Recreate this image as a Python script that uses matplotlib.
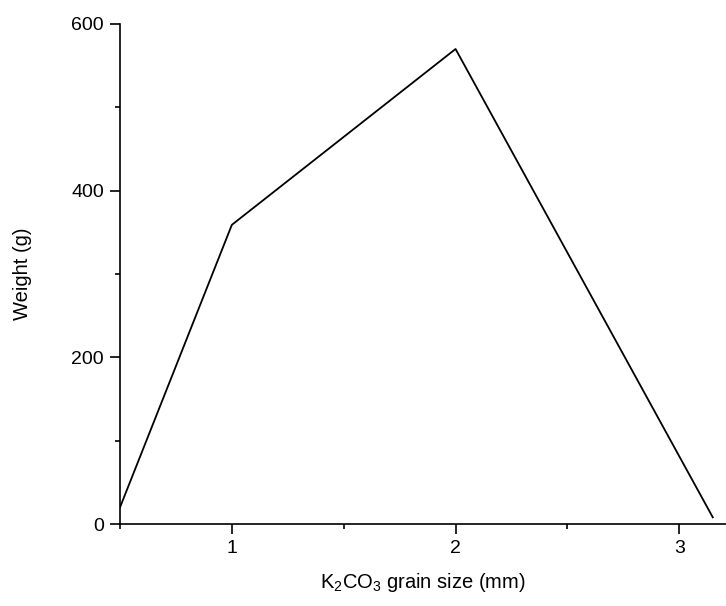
import matplotlib
matplotlib.use("Agg")
import matplotlib.pyplot as plt
from matplotlib.ticker import MultipleLocator

# grain size (mm) vs weight (g)
grain_size = [0.5, 1.0, 2.0, 3.15]
weight = [20, 359, 570, 8]

plt.rcParams['font.family'] = ['Liberation Sans', 'DejaVu Sans']
plt.rcParams['mathtext.default'] = 'regular'

fig = plt.figure(figsize=(7.26, 6.06), dpi=100)
ax = fig.add_axes([0.1653, 0.1353, 0.8347, 0.8251])

ax.plot(grain_size, weight, color='black', lw=1.3)

ax.set_xlim(0.5, 3.209)
ax.set_ylim(0, 600)
ax.xaxis.set_major_locator(MultipleLocator(1))
ax.xaxis.set_minor_locator(MultipleLocator(0.5))
ax.yaxis.set_major_locator(MultipleLocator(200))
ax.yaxis.set_minor_locator(MultipleLocator(100))

for s in ['top', 'right']:
    ax.spines[s].set_visible(False)
for s in ['left', 'bottom']:
    ax.spines[s].set_linewidth(1.2)

ax.tick_params(which='major', length=7, width=1.2, labelsize=14, pad=4.5, direction='out')
ax.tick_params(which='minor', length=3.5, width=1.2, direction='out')

ax.set_xlabel('K$_2$CO$_3$ grain size (mm)', fontsize=14.5, labelpad=10)
ax.set_ylabel('Weight (g)', fontsize=14.5, labelpad=28)

fig.savefig('out.png', dpi=100)
